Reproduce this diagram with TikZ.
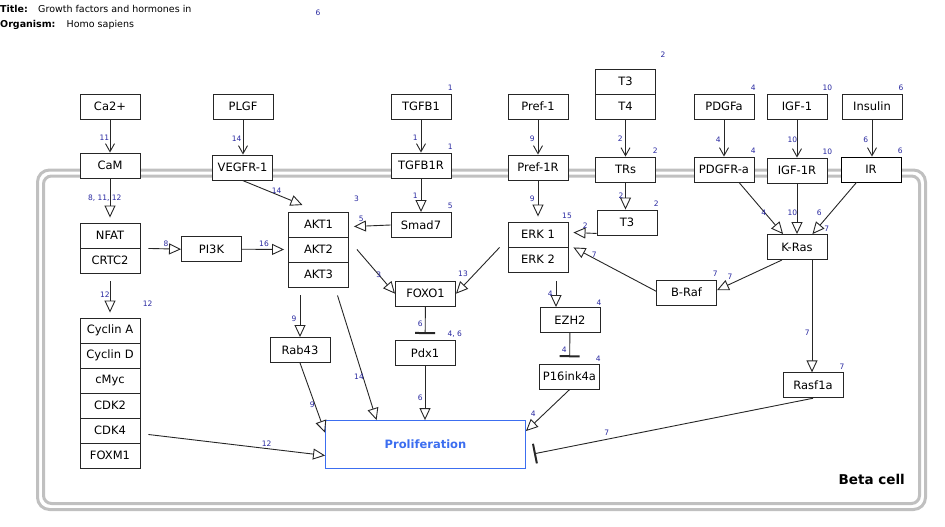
\documentclass[tikz,border=0pt]{standalone}
\usepackage{fontspec}
\setmainfont{DejaVu Sans}
\usetikzlibrary{arrows.meta,calc}
\definecolor{lblue}{RGB}{40,40,160}
\definecolor{pblue}{RGB}{60,110,240}
\definecolor{cellgray}{RGB}{192,192,192}

\begin{document}
\begin{tikzpicture}[x=1pt,y=-1pt,
  gene/.style={draw=black!85, line width=0.9pt, fill=white, minimum width=60pt,
    minimum height=25pt, inner sep=0pt, font=\fontsize{11.5}{13}\selectfont},
  lab/.style={text=lblue, font=\fontsize{7.5}{8}\selectfont, inner sep=0pt},
  edge/.style={draw=black!85, line width=0.9pt},
  bind/.style={edge, -{Straight Barb[length=8pt,width=9pt]}},
  stim/.style={edge, -{Triangle[length=12pt,width=11pt,fill=white]}},
  inhib/.style={edge, -{Bar[width=20pt,line width=2pt]}},
]
\useasboundingbox (0,0) rectangle (945,527);

% header
\node[anchor=base west, inner sep=0, font=\fontsize{9.5}{11}\selectfont\bfseries] (ttl) at (0,13) {Title:};
\node[anchor=base west, inner sep=0, font=\fontsize{9.5}{11}\selectfont] (ttlv) at (38,13) {Growth factors and hormones in};
\node[anchor=base west, inner sep=0, font=\fontsize{9.5}{11}\selectfont\bfseries] (org) at (0,28) {Organism:};
\node[anchor=base west, inner sep=0, font=\fontsize{9.5}{11}\selectfont] (orgv) at (66.5,28) {Homo sapiens};
\node[lab] (hdr6) at (318,13) {6};

% cell compartment (double grey outline)
\draw[cellgray, line width=3pt, rounded corners=12pt] (37.5,170) rectangle (925.5,509.5);
\draw[cellgray, line width=3pt, rounded corners=8pt] (43.5,176) rectangle (919.5,503.5);
\node[anchor=east, inner sep=0, font=\fontsize{13.5}{15}\selectfont\bfseries] (beta) at (905,479) {Beta cell};

% ligands and receptors
\node[gene] (ca) at (110,106.5) {Ca2+};
\node[gene] (cam) at (110,165.5) {CaM};
\node[gene] (plgf) at (243,106.5) {PLGF};
\node[gene] (vegfr) at (242.5,167.5) {VEGFR-1};
\node[gene] (tgfb) at (421,106.5) {TGFB1};
\node[gene] (tgfbr) at (421,165.5) {TGFB1R};
\node[gene] (pref) at (538,106.5) {Pref-1};
\node[gene] (prefr) at (538,167.5) {Pref-1R};
\node[gene] (t3a) at (625.5,81.5) {T3};
\node[gene] (t4) at (625.5,106.5) {T4};
\node[gene] (trs) at (625.5,169.5) {TRs};
\node[gene] (t3) at (627,222.5) {T3};
\node[gene] (pdgfa) at (724,106.5) {PDGFa};
\node[gene] (pdgfra) at (724,169.5) {PDGFR-a};
\node[gene] (igf) at (797,106.5) {IGF-1};
\node[gene] (igfr) at (797,170.5) {IGF-1R};
\node[gene] (ins) at (872,106.5) {Insulin};
\node[gene, draw=black] (ir) at (871,169.5) {IR};

% intracellular
\node[gene] (nfat) at (110,235.5) {NFAT};
\node[gene] (crtc) at (110,260.5) {CRTC2};
\node[gene] (pi3k) at (211.5,249.2) {PI3K};
\node[gene] (akt1) at (318.5,224.5) {AKT1};
\node[gene] (akt2) at (318.5,249.5) {AKT2};
\node[gene] (akt3) at (318.5,274.5) {AKT3};
\node[gene] (smad) at (421,225) {Smad7};
\node[gene] (erk1) at (538,234.5) {ERK 1};
\node[gene] (erk2) at (538,259.5) {ERK 2};
\node[gene] (kras) at (797,247) {K-Ras};
\node[gene] (braf) at (686.5,292.7) {B-Raf};
\node[gene] (rasf) at (813,385.3) {Rasf1a};
\node[gene] (foxo) at (425.5,293.7) {FOXO1};
\node[gene] (pdx) at (425,353) {Pdx1};
\node[gene] (ezh) at (570,320) {EZH2};
\node[gene] (p16) at (569.5,376.7) {P16ink4a};
\node[gene] (rab) at (300,350) {Rab43};
\node[gene] (cyca) at (110,330.5) {Cyclin A};
\node[gene] (cycd) at (110,355.5) {Cyclin D};
\node[gene] (cmyc) at (110,380.5) {cMyc};
\node[gene] (cdk2) at (110,405.5) {CDK2};
\node[gene] (cdk4) at (110,430.5) {CDK4};
\node[gene] (foxm) at (110,455.5) {FOXM1};
\node[draw=pblue, line width=0.9pt, fill=white, minimum width=200pt, minimum height=47.5pt,
  inner sep=0, text=pblue, font=\fontsize{11.5}{13}\selectfont\bfseries] (prol) at (425.5,444.3) {Proliferation};

% binding
\draw[bind] (ca) -- (cam);
\draw[bind] (plgf.south) -- (plgf.south |- vegfr.north);
\draw[bind] (tgfb) -- (tgfbr);
\draw[bind] (pref) -- (prefr);
\draw[bind] (t4) -- (trs);
\draw[bind] (pdgfa) -- (pdgfra);
\draw[bind] (igf) -- (igfr);
\draw[bind] (ins.south) -- (ins.south |- ir.north);

% stimulation
\draw[stim, shorten >=5pt] (cam) -- (nfat);
\draw[stim] (vegfr.south) -- ($(akt1.north)+(-16,-6.5)$);
\draw[stim] ($(nfat.south east)+(8,0)$) -- (pi3k.west);
\draw[stim] (pi3k.east) -- ($(akt2.west)+(-4,0)$);
\draw[stim] (tgfbr) -- (smad);
\draw[stim] (smad.west) -- ($(akt1.east)+(5,2)$);
\draw[stim] ($(akt2.east)+(8,0)$) -- (foxo.west);
\draw[stim] ($(erk1.south west)+(-8,0)$) -- (foxo.east);
\draw[stim, shorten >=5pt] (prefr) -- (erk1);
\draw[stim] (trs.south) -- (trs.south |- t3.north);
\draw[stim] ($(t3.south west)+(0,-2)$) -- ($(erk1.east)+(5,-2)$);
\draw[stim] ($(braf.west)+(0,-1.5)$) -- ($(erk1.south east)+(5,0)$);
\draw[stim] ($(kras.south west)+(15.5,0)$) -- ($(braf.east)+(0,-2.5)$);
\draw[stim] ($(pdgfra.south)+(15,0)$) -- ($(kras.north west)+(16.5,0)$);
\draw[stim] (igfr) -- (kras);
\draw[stim] ($(ir.south)+(-14.5,0)$) -- ($(kras.north east)+(-15,0)$);
\draw[stim] ($(kras.south)+(15,0)$) -- ($(rasf.north)+(-1,0)$);
\draw[stim] ($(erk2.south)+(18,8.5)$) -- ($(ezh.north)+(-14,0)$);
\draw[stim] (p16.south) -- ($(prol.north east)+(0,11)$);
\draw[stim] (pdx.south) -- (pdx.south |- prol.north);
\draw[stim] ($(akt3.south)+(-18.5,8)$) -- (rab.north);
\draw[stim] (rab.south) -- ($(prol.north west)+(0,12.5)$);
\draw[stim] ($(akt3.south)+(19,8)$) -- ($(prol.north west)+(51.5,0)$);
\draw[stim, shorten >=5pt] ($(crtc.south)+(0,8)$) -- (cyca.north);
\draw[stim] ($(cdk4.east)+(8,4)$) -- ($(prol.south west)+(0,-13)$);

% inhibition
\draw[inhib, shorten >=6.5pt] (ezh) -- (p16);
\draw[inhib, shorten >=6pt] (foxo) -- (pdx);
\draw[inhib] (rasf.south) -- ($(prol.east)+(8,9.5)$);

% reference numbers
\node[lab] (n1) at (104.3,137.3) {11};
\node[lab] (n2) at (236.7,138.3) {14};
\node[lab] (n3) at (104.7,198.3) {8, 11, 12};
\node[lab] (n4) at (276.7,191) {14};
\node[lab] (n5) at (356.5,198.3) {3};
\node[lab] (n6) at (166,243.3) {8};
\node[lab] (n7) at (264,243.3) {16};
\node[lab] (n8) at (450.3,87.3) {1};
\node[lab] (n9) at (415.3,137.3) {1};
\node[lab] (n10) at (450.3,146.7) {1};
\node[lab] (n11) at (415.3,196) {1};
\node[lab] (n12) at (450.3,206) {5};
\node[lab] (n13) at (361.3,219.3) {5};
\node[lab] (n14) at (378.7,274.3) {3};
\node[lab] (n15) at (463,274) {13};
\node[lab] (n16) at (532.3,138.3) {9};
\node[lab] (n17) at (663,55) {2};
\node[lab] (n18) at (620.3,139) {2};
\node[lab] (n19) at (655.3,151) {2};
\node[lab] (n20) at (621,196) {2};
\node[lab] (n21) at (656.3,204) {2};
\node[lab] (n22) at (532.3,198.3) {9};
\node[lab] (n23) at (567,216) {15};
\node[lab] (n24) at (585.3,225.3) {2};
\node[lab] (n25) at (594.3,255) {7};
\node[lab] (n26) at (753.3,88) {4};
\node[lab] (n27) at (827.3,88) {10};
\node[lab] (n28) at (901,88) {6};
\node[lab] (n29) at (718.3,140) {4};
\node[lab] (n30) at (792.3,140) {10};
\node[lab] (n31) at (865.7,140) {6};
\node[lab] (n32) at (753.3,151) {4};
\node[lab] (n33) at (827.3,151.7) {10};
\node[lab] (n34) at (900.3,151) {6};
\node[lab] (n35) at (763.7,212.7) {4};
\node[lab] (n36) at (792.3,212.7) {10};
\node[lab] (n37) at (819.3,212.7) {6};
\node[lab] (n38) at (826.7,229) {7};
\node[lab] (n39) at (715.3,273.3) {7};
\node[lab] (n40) at (730,276.7) {7};
\node[lab] (n41) at (550.3,293.3) {4};
\node[lab] (n42) at (599,302.3) {4};
\node[lab] (n43) at (564.3,349.3) {4};
\node[lab] (n44) at (598.3,358.3) {4};
\node[lab] (n45) at (533.3,413.3) {4};
\node[lab] (n46) at (807.3,332.7) {7};
\node[lab] (n47) at (842,366.7) {7};
\node[lab] (n48) at (606.7,433) {7};
\node[lab] (n49) at (420.3,324) {6};
\node[lab] (n50) at (454.7,334) {4, 6};
\node[lab] (n51) at (420.3,398) {6};
\node[lab] (n52) at (294,319) {9};
\node[lab] (n53) at (312.3,405) {9};
\node[lab] (n54) at (359,377) {14};
\node[lab] (n55) at (105,295) {12};
\node[lab] (n56) at (147.7,304) {12};
\node[lab] (n57) at (266.7,444) {12};
\end{tikzpicture}
\end{document}
